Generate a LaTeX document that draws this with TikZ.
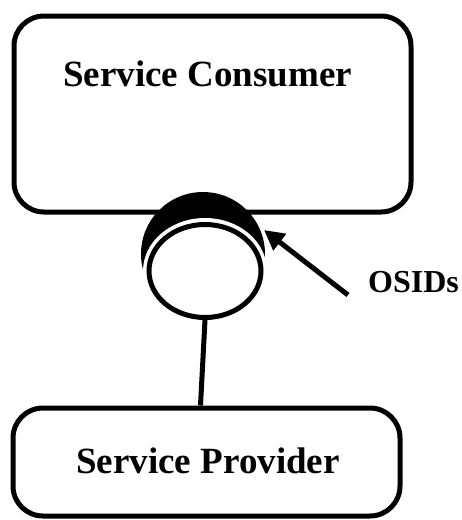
\documentclass[tikz,border=0pt]{standalone}
\usepackage{fontspec}
\setmainfont{Liberation Serif}
\usetikzlibrary{shapes.geometric,arrows.meta}

\tikzset{
  boxshape/.style={draw=black, line width=5pt, rounded corners=30pt,
    rectangle, inner sep=0pt, fill=none},
  boxtext/.style={font=\bfseries\fontsize{37}{44}\selectfont, anchor=base,
    inner sep=0pt},
  tagtext/.style={font=\bfseries\fontsize{32}{38}\selectfont, anchor=base west,
    inner sep=0pt},
  wire/.style={draw=black, line width=5pt},
  pointer/.style={draw=black, line width=5pt,
    -{Triangle[length=20pt,width=20pt]}},
}

\begin{document}
\begin{tikzpicture}[x=1pt,y=-1pt]
  \useasboundingbox (0,0) rectangle (462,520);

  % consumer and provider boxes
  \node[boxshape, minimum width=397pt, minimum height=196pt] (consumer) at (212.5,114) {};
  \node[boxtext] (consumerlabel) at (207.5,86) {Service Consumer};

  \node[boxshape, minimum width=387pt, minimum height=108pt] (provider) at (206.5,462) {};
  \node[boxtext] (providerlabel) at (208,473) {Service Provider};

  % socket half of the lollipop interface
  \node[ellipse, fill=black, draw=none, inner sep=0pt,
        minimum width=124pt, minimum height=124pt] (socket) at (203,254) {};
  \coordinate (ballc) at (205,271);
  \fill[white] (ballc) ellipse [x radius=62pt, y radius=53pt];

  % ball half
  \node[ellipse, draw=black, fill=white, line width=5pt, inner sep=0pt,
        minimum width=112pt, minimum height=93pt] (ball) at (ballc) {};

  % link from the ball down to the provider
  \draw[wire] (ball.south) -- ([xshift=-6pt]provider.north);

  % OSIDs label and its pointer
  \node[tagtext] (osids) at (368,292) {OSIDs};
  \coordinate (tail) at (348,295);
  \coordinate (tip) at (264,230);
  \draw[pointer] (tail) -- (tip);
\end{tikzpicture}
\end{document}
